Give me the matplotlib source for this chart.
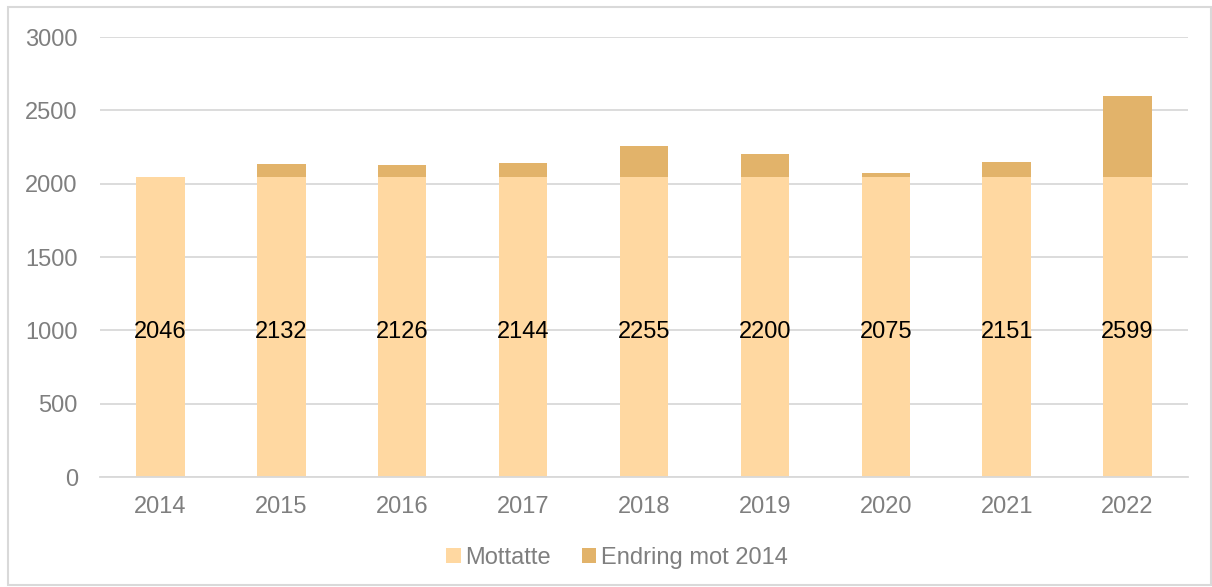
import matplotlib.pyplot as plt
from matplotlib.patches import Rectangle

plt.rcParams['font.family'] = ['Liberation Sans', 'DejaVu Sans']

years = ["2014", "2015", "2016", "2017", "2018", "2019", "2020", "2021", "2022"]
totals = [2046, 2132, 2126, 2144, 2255, 2200, 2075, 2151, 2599]
base = 2046
mottatte = [base] * len(years)
endring = [t - base for t in totals]

light = "#FFD8A1"
dark = "#E2B36A"
grey_text = "#7F7F7F"
grid_col = "#D9D9D9"

fig = plt.figure(figsize=(12.12, 5.87), dpi=100)
ax = fig.add_axes([100 / 1212, 1 - 477 / 587, 1088 / 1212, 440 / 587])

x = list(range(len(years)))
ax.bar(x, mottatte, width=0.4, color=light, label="Mottatte", zorder=2)
ax.bar(x, endring, width=0.4, bottom=mottatte, color=dark, label="Endring mot 2014", zorder=2)

# total shown in the middle of the base segment
for xi, t, m in zip(x, totals, mottatte):
    ax.text(xi, m / 2 - 20, str(t), ha="center", va="center_baseline", fontsize=17, color="black", zorder=3)

ax.set_xlim(-0.5, len(years) - 0.5)
ax.set_ylim(0, 3000)
ax.set_yticks(range(0, 3001, 500))
ax.set_xticks(x)
ax.set_xticklabels(years)
ax.yaxis.grid(True, color=grid_col, linewidth=1.3, zorder=0)
ax.tick_params(axis="both", length=0, labelsize=17, colors=grey_text)
ax.tick_params(axis="y", pad=16)
ax.tick_params(axis="x", pad=14)
for side in ["top", "right", "left"]:
    ax.spines[side].set_visible(False)
ax.spines["bottom"].set_color(grid_col)
ax.spines["bottom"].set_linewidth(1.3)

leg = fig.legend(loc="center", bbox_to_anchor=(0.509, 1 - 558 / 587), ncol=2, frameon=False,
                 fontsize=17, handlelength=0.6, handleheight=0.6, handletextpad=0.2,
                 columnspacing=1.3)
for txt in leg.get_texts():
    txt.set_color(grey_text)

fig.patches.append(Rectangle((8 / 1212, 2 / 587), 1203 / 1212, 578 / 587,
                             transform=fig.transFigure, fill=False,
                             edgecolor=grid_col, linewidth=1.5))

fig.savefig("out.png", dpi=100)
